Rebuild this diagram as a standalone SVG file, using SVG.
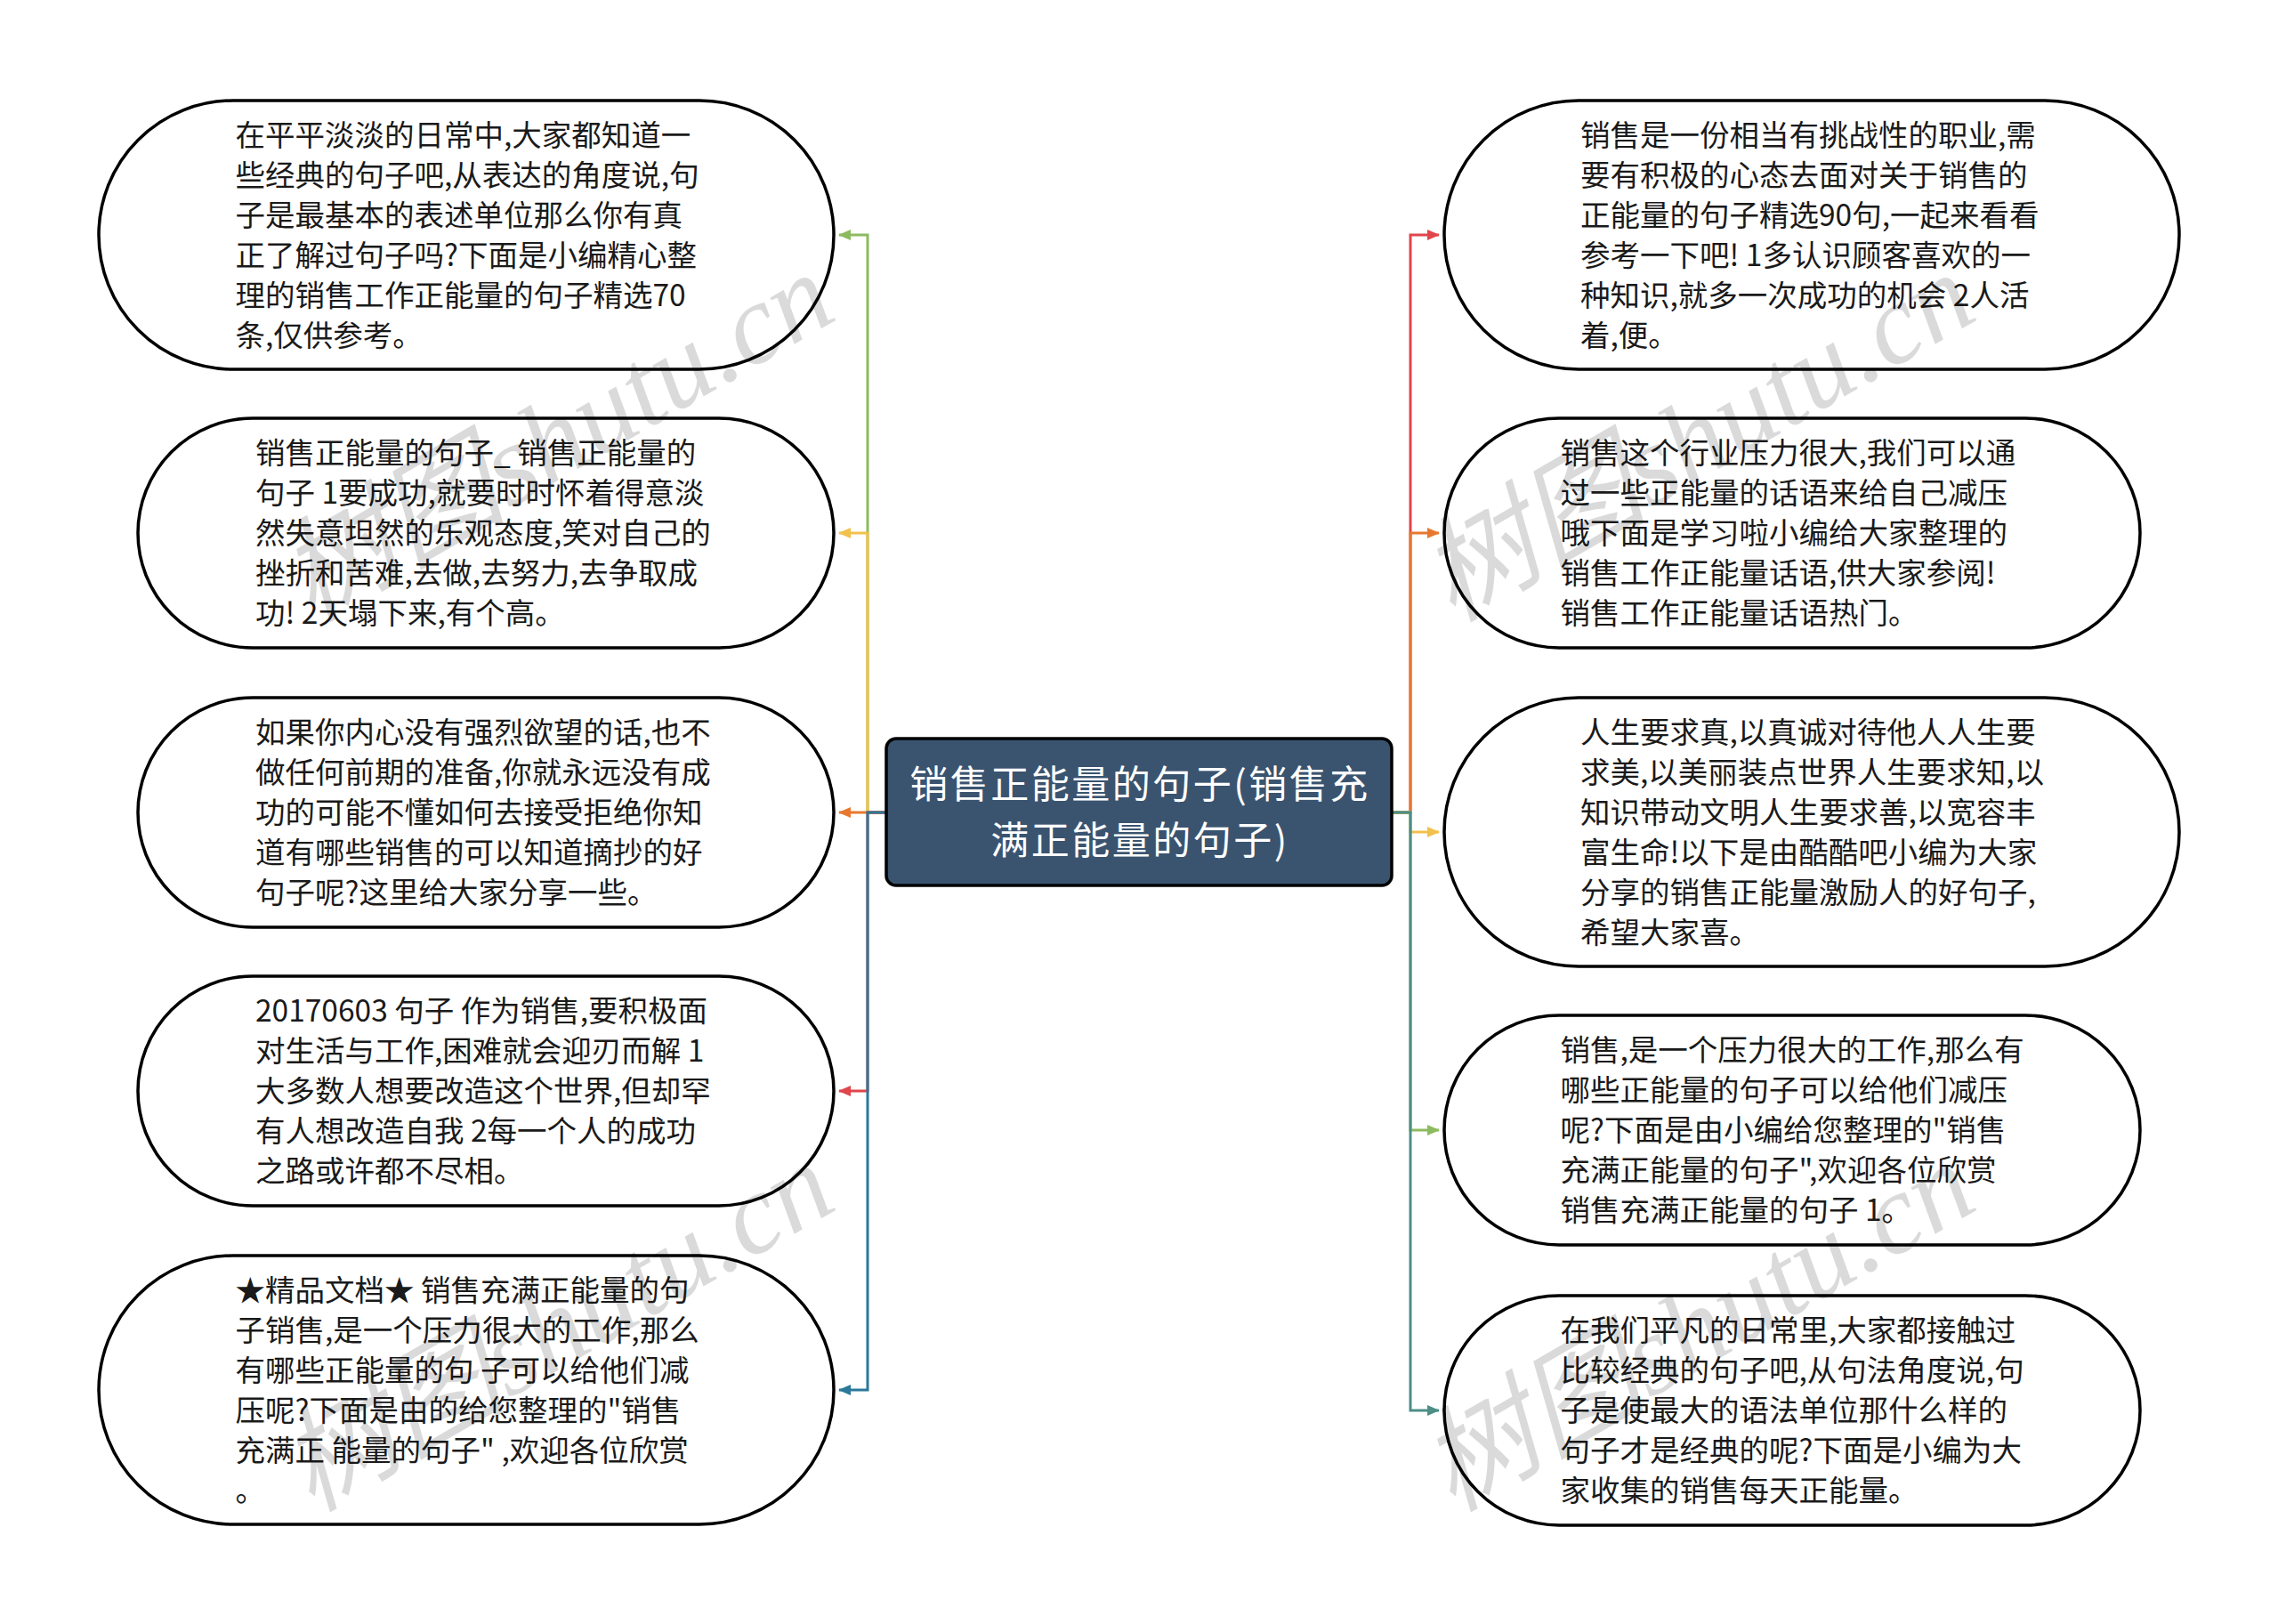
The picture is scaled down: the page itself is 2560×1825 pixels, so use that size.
<svg xmlns="http://www.w3.org/2000/svg" width="2560" height="1825" viewBox="0 0 2560 1825">
<style>
.node{fill:#ffffff;stroke:#000000;stroke-width:3.5}
.txt{font-family:"Noto Sans CJK SC","Noto Sans",sans-serif;font-size:33.5px;fill:#1a1a1a}
.title{font-family:"Noto Sans CJK SC","Noto Sans",sans-serif;font-size:43px;letter-spacing:2.5px;fill:#ffffff;text-anchor:middle}
.root{fill:#3a5470;stroke:#000000;stroke-width:3.5}
.c{fill:none;stroke-width:3}
.wm{font-family:"Liberation Serif","Noto Sans CJK SC",serif;font-style:italic;font-size:128px;fill:#000000;opacity:0.14}
</style>
<defs>
<marker id="aG" markerUnits="userSpaceOnUse" markerWidth="14" markerHeight="12" refX="13" refY="6" orient="auto"><path d="M0,0 L14,6 L0,12 z" fill="#8cbb5f"/></marker>
<marker id="aY" markerUnits="userSpaceOnUse" markerWidth="14" markerHeight="12" refX="13" refY="6" orient="auto"><path d="M0,0 L14,6 L0,12 z" fill="#f1c14c"/></marker>
<marker id="aO" markerUnits="userSpaceOnUse" markerWidth="14" markerHeight="12" refX="13" refY="6" orient="auto"><path d="M0,0 L14,6 L0,12 z" fill="#e8782f"/></marker>
<marker id="aR" markerUnits="userSpaceOnUse" markerWidth="14" markerHeight="12" refX="13" refY="6" orient="auto"><path d="M0,0 L14,6 L0,12 z" fill="#e0464b"/></marker>
<marker id="aB" markerUnits="userSpaceOnUse" markerWidth="14" markerHeight="12" refX="13" refY="6" orient="auto"><path d="M0,0 L14,6 L0,12 z" fill="#2b7899"/></marker>
<marker id="aT" markerUnits="userSpaceOnUse" markerWidth="14" markerHeight="12" refX="13" refY="6" orient="auto"><path d="M0,0 L14,6 L0,12 z" fill="#4d8e87"/></marker>
</defs>
<rect width="2560" height="1825" fill="#ffffff"/>
<g id="connectors">
<path class="c" stroke="#8cbb5f" marker-end="url(#aG)" d="M996,913 H975 V264 H943"/>
<path class="c" stroke="#f1c14c" marker-end="url(#aY)" d="M996,913 H975 V599 H943"/>
<path class="c" stroke="#e8782f" marker-end="url(#aO)" d="M996,913 H943"/>
<path class="c" stroke="#e0464b" marker-end="url(#aR)" d="M996,913 H975 V1226 H943"/>
<path class="c" stroke="#2b7899" marker-end="url(#aB)" d="M996,913 H975 V1562 H943"/>
<path class="c" stroke="#e0464b" marker-end="url(#aR)" d="M1564,913 H1585 V264 H1617"/>
<path class="c" stroke="#e8782f" marker-end="url(#aO)" d="M1564,913 H1585 V599 H1617"/>
<path class="c" stroke="#f1c14c" marker-end="url(#aY)" d="M1564,913 H1585 V935 H1617"/>
<path class="c" stroke="#8cbb5f" marker-end="url(#aG)" d="M1564,913 H1585 V1270 H1617"/>
<path class="c" stroke="#4d8e87" marker-end="url(#aT)" d="M1564,913 H1585 V1585 H1617"/>
</g>
<g id="root">
<rect class="root" x="996" y="830" width="568" height="165" rx="11"/>
<text class="title" x="1281" y="897">销售正能量的句子(销售充</text>
<text class="title" x="1281" y="960">满正能量的句子)</text>
</g>
<g id="L1">
<rect class="node" x="111" y="113" width="826" height="302" rx="151"/>
<text class="txt" x="264.5" y="163.5">在平平淡淡的日常中,大家都知道一</text>
<text class="txt" x="264.5" y="208.5">些经典的句子吧,从表达的角度说,句</text>
<text class="txt" x="264.5" y="253.5">子是最基本的表述单位那么你有真</text>
<text class="txt" x="264.5" y="298.5">正了解过句子吗?下面是小编精心整</text>
<text class="txt" x="264.5" y="343.5">理的销售工作正能量的句子精选70</text>
<text class="txt" x="264.5" y="388.5">条,仅供参考。</text>
</g>
<g id="L2">
<rect class="node" x="155" y="470" width="782" height="258" rx="129"/>
<text class="txt" x="287" y="521">销售正能量的句子_ 销售正能量的</text>
<text class="txt" x="287" y="566">句子 1要成功,就要时时怀着得意淡</text>
<text class="txt" x="287" y="611">然失意坦然的乐观态度,笑对自己的</text>
<text class="txt" x="287" y="656">挫折和苦难,去做,去努力,去争取成</text>
<text class="txt" x="287" y="701">功! 2天塌下来,有个高。</text>
</g>
<g id="L3">
<rect class="node" x="155" y="784" width="782" height="258" rx="129"/>
<text class="txt" x="287" y="835">如果你内心没有强烈欲望的话,也不</text>
<text class="txt" x="287" y="880">做任何前期的准备,你就永远没有成</text>
<text class="txt" x="287" y="925">功的可能不懂如何去接受拒绝你知</text>
<text class="txt" x="287" y="970">道有哪些销售的可以知道摘抄的好</text>
<text class="txt" x="287" y="1015">句子呢?这里给大家分享一些。</text>
</g>
<g id="L4">
<rect class="node" x="155" y="1097" width="782" height="258" rx="129"/>
<text class="txt" x="287" y="1148">20170603 句子 作为销售,要积极面</text>
<text class="txt" x="287" y="1193">对生活与工作,困难就会迎刃而解 1</text>
<text class="txt" x="287" y="1238">大多数人想要改造这个世界,但却罕</text>
<text class="txt" x="287" y="1283">有人想改造自我 2每一个人的成功</text>
<text class="txt" x="287" y="1328">之路或许都不尽相。</text>
</g>
<g id="L5">
<rect class="node" x="111" y="1411" width="826" height="302" rx="151"/>
<text class="txt" x="264.5" y="1461.5">★精品文档★ 销售充满正能量的句</text>
<text class="txt" x="264.5" y="1506.5">子销售,是一个压力很大的工作,那么</text>
<text class="txt" x="264.5" y="1551.5">有哪些正能量的句 子可以给他们减</text>
<text class="txt" x="264.5" y="1596.5">压呢?下面是由的给您整理的"销售</text>
<text class="txt" x="264.5" y="1641.5">充满正 能量的句子" ,欢迎各位欣赏</text>
<text class="txt" x="264.5" y="1686.5">。</text>
</g>
<g id="R1">
<rect class="node" x="1623" y="113" width="826" height="302" rx="151"/>
<text class="txt" x="1776" y="163.5">销售是一份相当有挑战性的职业,需</text>
<text class="txt" x="1776" y="208.5">要有积极的心态去面对关于销售的</text>
<text class="txt" x="1776" y="253.5">正能量的句子精选90句,一起来看看</text>
<text class="txt" x="1776" y="298.5">参考一下吧! 1多认识顾客喜欢的一</text>
<text class="txt" x="1776" y="343.5">种知识,就多一次成功的机会 2人活</text>
<text class="txt" x="1776" y="388.5">着,便。</text>
</g>
<g id="R2">
<rect class="node" x="1623" y="470" width="782" height="258" rx="129"/>
<text class="txt" x="1753.5" y="521">销售这个行业压力很大,我们可以通</text>
<text class="txt" x="1753.5" y="566">过一些正能量的话语来给自己减压</text>
<text class="txt" x="1753.5" y="611">哦下面是学习啦小编给大家整理的</text>
<text class="txt" x="1753.5" y="656">销售工作正能量话语,供大家参阅!</text>
<text class="txt" x="1753.5" y="701">销售工作正能量话语热门。</text>
</g>
<g id="R3">
<rect class="node" x="1623" y="784" width="826" height="302" rx="151"/>
<text class="txt" x="1776" y="834.5">人生要求真,以真诚对待他人人生要</text>
<text class="txt" x="1776" y="879.5">求美,以美丽装点世界人生要求知,以</text>
<text class="txt" x="1776" y="924.5">知识带动文明人生要求善,以宽容丰</text>
<text class="txt" x="1776" y="969.5">富生命!以下是由酷酷吧小编为大家</text>
<text class="txt" x="1776" y="1014.5">分享的销售正能量激励人的好句子,</text>
<text class="txt" x="1776" y="1059.5">希望大家喜。</text>
</g>
<g id="R4">
<rect class="node" x="1623" y="1141" width="782" height="258" rx="129"/>
<text class="txt" x="1753.5" y="1192">销售,是一个压力很大的工作,那么有</text>
<text class="txt" x="1753.5" y="1237">哪些正能量的句子可以给他们减压</text>
<text class="txt" x="1753.5" y="1282">呢?下面是由小编给您整理的"销售</text>
<text class="txt" x="1753.5" y="1327">充满正能量的句子",欢迎各位欣赏</text>
<text class="txt" x="1753.5" y="1372">销售充满正能量的句子 1。</text>
</g>
<g id="R5">
<rect class="node" x="1623" y="1456" width="782" height="258" rx="129"/>
<text class="txt" x="1753.5" y="1507">在我们平凡的日常里,大家都接触过</text>
<text class="txt" x="1753.5" y="1552">比较经典的句子吧,从句法角度说,句</text>
<text class="txt" x="1753.5" y="1597">子是使最大的语法单位那什么样的</text>
<text class="txt" x="1753.5" y="1642">句子才是经典的呢?下面是小编为大</text>
<text class="txt" x="1753.5" y="1687">家收集的销售每天正能量。</text>
</g>
<g id="watermark">
<text class="wm" transform="translate(350,700) rotate(-30)">树图shutu.cn</text>
<text class="wm" transform="translate(350,1700) rotate(-30)">树图shutu.cn</text>
<text class="wm" transform="translate(1632,700) rotate(-30)">树图shutu.cn</text>
<text class="wm" transform="translate(1632,1700) rotate(-30)">树图shutu.cn</text>
</g>
</svg>
